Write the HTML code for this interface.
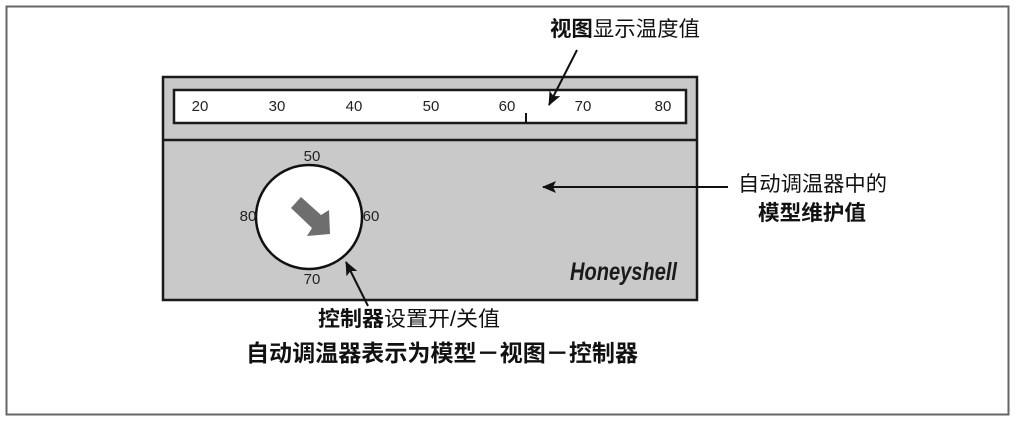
<!DOCTYPE html>
<html><head><meta charset="utf-8"><style>
html,body{margin:0;padding:0;background:#fff;}
svg{display:block;}
.n{font-family:"Liberation Sans",sans-serif;font-size:15px;fill:#222;}
.c{font-family:"Liberation Sans","Noto Sans CJK SC",sans-serif;fill:#111;}
</style></head><body>
<svg width="1015" height="423" viewBox="0 0 1015 423" xmlns="http://www.w3.org/2000/svg">
<defs>
<marker id="ah" markerWidth="14" markerHeight="12" refX="13" refY="6" orient="auto" markerUnits="userSpaceOnUse" viewBox="0 0 14 12">
<path d="M0,0 L14,6 L0,12 L3,6 Z" fill="#111"/>
</marker>
</defs>
<rect x="6.5" y="6.5" width="1002" height="408" fill="#fff" stroke="#666" stroke-width="2"/>
<rect x="163" y="77" width="534" height="223" fill="#c9c9c9" stroke="#1a1a1a" stroke-width="2.5"/>
<line x1="163" y1="140" x2="697" y2="140" stroke="#1a1a1a" stroke-width="2.5"/>
<rect x="174" y="90" width="512" height="33" fill="#fff" stroke="#1a1a1a" stroke-width="2.5"/>
<g class="n" text-anchor="middle">
<text x="200" y="111">20</text><text x="277" y="111">30</text><text x="354" y="111">40</text>
<text x="431" y="111">50</text><text x="507" y="111">60</text><text x="583" y="111">70</text><text x="663" y="111">80</text>
</g>
<line x1="526" y1="113" x2="526" y2="123" stroke="#111" stroke-width="2"/>
<ellipse cx="309" cy="217" rx="53" ry="52" fill="#fff" stroke="#111" stroke-width="2.5"/>
<polygon points="301,197 321,215 329,210 330,234 307,236 312,228 291,208" fill="#6e6e6e"/>
<g class="n" text-anchor="middle">
<text x="312" y="161">50</text><text x="248" y="221">80</text><text x="371" y="221">60</text><text x="312" y="284">70</text>
</g>
<text x="570" y="280" font-family="Liberation Sans,sans-serif" font-weight="bold" font-style="italic" font-size="25" fill="#1a1a1a" textLength="107" lengthAdjust="spacingAndGlyphs">Honeyshell</text>
<line x1="577" y1="50" x2="549" y2="105" stroke="#111" stroke-width="2" marker-end="url(#ah)"/>
<line x1="728" y1="187" x2="543" y2="187" stroke="#111" stroke-width="2" marker-end="url(#ah)"/>
<line x1="368" y1="306" x2="346" y2="262" stroke="#111" stroke-width="2" marker-end="url(#ah)"/>
<text class="c" x="550" y="36" font-size="21" textLength="150" lengthAdjust="spacingAndGlyphs"><tspan font-weight="bold">视图</tspan>显示温度值</text>
<text class="c" x="738" y="191" font-size="21" textLength="149" lengthAdjust="spacingAndGlyphs">自动调温器中的</text>
<text class="c" x="758" y="220" font-size="21" font-weight="bold" textLength="108" lengthAdjust="spacingAndGlyphs">模型维护值</text>
<text class="c" x="318" y="326" font-size="21" textLength="182" lengthAdjust="spacingAndGlyphs"><tspan font-weight="bold">控制器</tspan>设置开/关值</text>
<text class="c" x="246" y="361" font-size="23" font-weight="bold" textLength="392" lengthAdjust="spacingAndGlyphs">自动调温器表示为模型－视图－控制器</text>
</svg>
</body></html>
